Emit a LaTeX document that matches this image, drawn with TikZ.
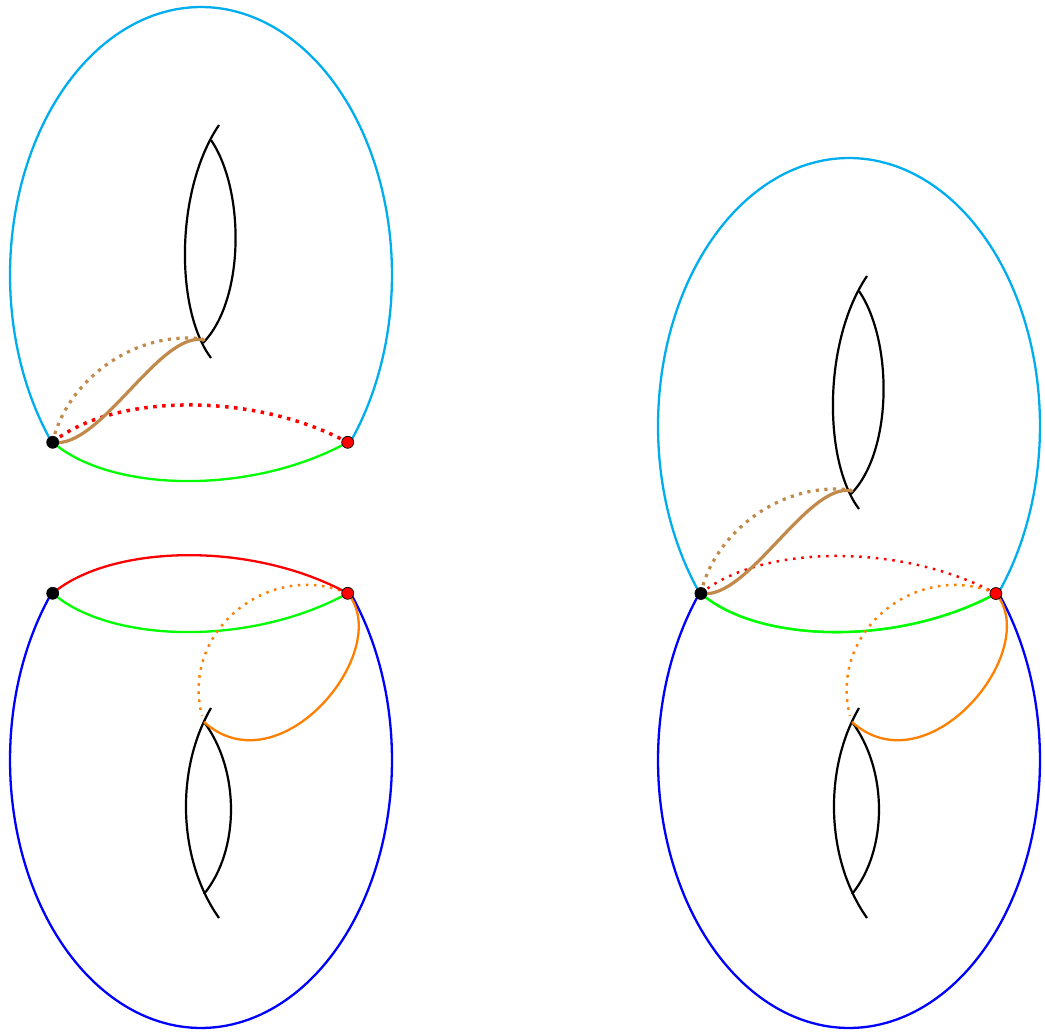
\documentclass[tikz,border=0pt]{standalone}
\definecolor{torcyan}{RGB}{0,174,239}
\definecolor{torblue}{RGB}{0,0,255}
\definecolor{torgreen}{RGB}{0,255,0}
\definecolor{torred}{RGB}{255,0,0}
\definecolor{tororange}{RGB}{255,128,0}
\definecolor{torbrown}{RGB}{193,137,74}
\tikzset{
  cyanline/.style={draw=torcyan, line width=2.3pt},
  blueline/.style={draw=torblue, line width=2.3pt},
  greenline/.style={draw=torgreen, line width=2.3pt},
  redline/.style={draw=torred, line width=2.3pt},
  holeline/.style={draw=black, line width=2.2pt},
  brownline/.style={draw=torbrown, line width=3.2pt, line cap=round},
  browndots/.style={draw=torbrown, line width=3.2pt, dash pattern=on 3.2pt off 5.4pt},
  thickreddots/.style={draw=torred, line width=3.5pt, dash pattern=on 3.5pt off 5.5pt},
  thinreddots/.style={draw=torred, line width=2.5pt, dash pattern=on 2.5pt off 5.8pt},
  orangeline/.style={draw=tororange, line width=2.3pt},
  orangedots/.style={draw=tororange, line width=2.5pt, dash pattern=on 2.5pt off 5.6pt},
  blackpt/.style={circle, fill=black, draw=black, line width=0.7pt, minimum size=12pt, inner sep=0pt},
  redpt/.style={circle, fill=torred, draw=black, line width=0.7pt, minimum size=12pt, inner sep=0pt},
}
\newcommand\torustop[2]{%
  \draw[cyanline] plot[domain=-38.7:218.7,samples=150] ({201+191*cos(\x)},{275-268*sin(\x)});
  \draw[greenline] (#1b) .. controls (110,492) and (250,496) .. (#1r);
  \draw[#2] (#1b) .. controls (110,395) and (250,390) .. (#1r);
  \draw[holeline] (219,125) .. controls (175,190) and (175,310) .. (211,358);
  \draw[holeline] (211,140) .. controls (245,190) and (245,300) .. (203,343);
  \draw[browndots] (#1b) .. controls (65,385) and (130,330) .. (203,339);
  \draw[brownline] (#1b) .. controls (100,450) and (160,330) .. (204,340);
}
\newcommand\torusbot[1]{%
  \draw[blueline] plot[domain=-38.7:218.7,samples=150] ({201+191*cos(\x)},{760+268*sin(\x)});
  \draw[greenline] (#1b) .. controls (110,643) and (250,647) .. (#1r);
  \draw[holeline] (211,708) .. controls (175,770) and (178,860) .. (219,918);
  \draw[holeline] (204,722) .. controls (240,770) and (240,850) .. (204,894);
  \draw[orangedots] (#1r) .. controls (270,560) and (180,630) .. (202,716);
  \draw[orangeline] (#1r) .. controls (395,650) and (280,790) .. (204,722);
}
\begin{document}
\begin{tikzpicture}[x=1pt,y=-1pt,line join=round]
\useasboundingbox (0,0) rectangle (1045,1032);
% point positions
\coordinate (TLb) at (52.7,442.3);
\coordinate (TLr) at (347.7,442.3);
\coordinate (BLb) at (52.7,593.3);
\coordinate (BLr) at (347.7,593.3);
\coordinate (Rb) at (700.9,593.5);
\coordinate (Rr) at (995.9,593.5);
% left column
\torustop{TL}{thickreddots}
\torusbot{BL}
\draw[redline] (BLb) .. controls (110,545) and (250,540) .. (BLr);
% right figure
\begin{scope}[shift={(648,151)}]
  \torustop{R}{thinreddots}
\end{scope}
\begin{scope}[shift={(648,0)}]
  \torusbot{R}
\end{scope}
% points
\node[blackpt] (TLbdot) at (TLb) {};
\node[redpt] (TLrdot) at (TLr) {};
\node[blackpt] (BLbdot) at (BLb) {};
\node[redpt] (BLrdot) at (BLr) {};
\node[blackpt] (Rbdot) at (Rb) {};
\node[redpt] (Rrdot) at (Rr) {};
\end{tikzpicture}
\end{document}
